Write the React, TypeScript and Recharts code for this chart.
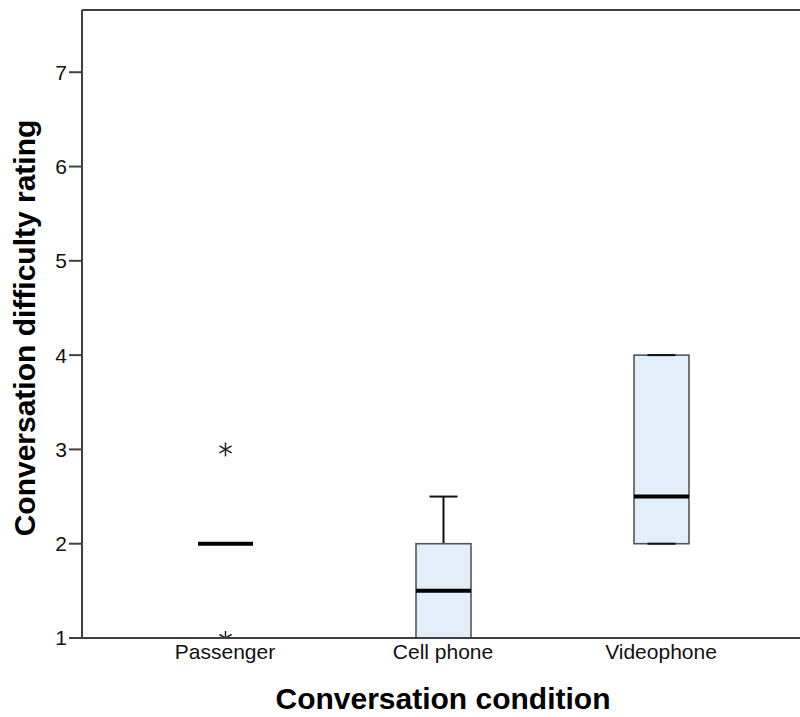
import React from 'react';
import { ComposedChart, Bar, XAxis, YAxis, ReferenceLine } from 'recharts';

// page gets no margin so the chart owns the whole 800x717 frame
document.body.style.margin = '0';

const conditions = ['Passenger', 'Cell phone', 'Videophone'];
const lowerWhisker = [2, 1, 2];
const q1 = [2, 1, 2];
const median = [2, 1.5, 2.5];
const q3 = [2, 2, 4];
const upperWhisker = [2, 2.5, 4];
const extremes: number[][] = [[1, 3], [], []];

const yTicks = [1, 2, 3, 4, 5, 6, 7];
const Y_MIN = 1;
const Y_MAX = 7.66;

const FONT = '"Liberation Sans", Arial, sans-serif';
const AXIS_COLOR = '#404040';
const BOX_FILL = '#E2EEFA';

const data = conditions.map((name, i) => {
  const lo = Math.min(lowerWhisker[i], ...extremes[i]);
  const hi = Math.max(upperWhisker[i], ...extremes[i]);
  return {
    name,
    range: [lo, hi],
    lo,
    hi,
    lw: lowerWhisker[i],
    q1: q1[i],
    med: median[i],
    q3: q3[i],
    uw: upperWhisker[i],
    extremes: extremes[i],
  };
});

// one range bar per group spans everything drawn for it; the pieces are
// placed along that bar using its own pixel/value ratio
function BoxShape(props: any) {
  const { x, y, width, height, payload } = props;
  if (!payload || !(height > 0)) return null;
  const { lo, hi, lw, q1: b1, med, q3: b3, uw } = payload;
  const unit = height / (hi - lo);
  const yOf = (v: number) => y + (hi - v) * unit;
  const cx = x + width / 2;
  const cap = 28;
  const hasBox = b3 > b1;

  return (
    <g>
      {hasBox && uw > b3 && (
        <line x1={cx} x2={cx} y1={yOf(b3)} y2={yOf(uw)} stroke="#111" strokeWidth={2} />
      )}
      {hasBox && lw < b1 && (
        <line x1={cx} x2={cx} y1={yOf(b1)} y2={yOf(lw)} stroke="#111" strokeWidth={2} />
      )}
      {hasBox && (
        <rect
          x={x}
          y={yOf(b3)}
          width={width}
          height={yOf(b1) - yOf(b3)}
          fill={BOX_FILL}
          stroke="#555"
          strokeWidth={1.6}
        />
      )}
      {hasBox && (
        <line x1={cx - cap / 2} x2={cx + cap / 2} y1={yOf(uw)} y2={yOf(uw)} stroke="#111" strokeWidth={2} />
      )}
      {hasBox && (
        <line x1={cx - cap / 2} x2={cx + cap / 2} y1={yOf(lw)} y2={yOf(lw)} stroke="#111" strokeWidth={2} />
      )}
      <line x1={x} x2={x + width} y1={yOf(med)} y2={yOf(med)} stroke="#000" strokeWidth={4} />
      {payload.extremes.map((v: number, k: number) => {
        const cy = yOf(v);
        const r = 7;
        const dx = r * Math.cos(Math.PI / 6);
        const dy = r * Math.sin(Math.PI / 6);
        return (
          <g key={k} stroke="#222" strokeWidth={1.5}>
            <line x1={cx} x2={cx} y1={cy - r} y2={cy + r} />
            <line x1={cx - dx} x2={cx + dx} y1={cy - dy} y2={cy + dy} />
            <line x1={cx - dx} x2={cx + dx} y1={cy + dy} y2={cy - dy} />
          </g>
        );
      })}
    </g>
  );
}

const YTitle = ({ viewBox }: any) => {
  const cx = viewBox.x + 35;
  const cy = viewBox.y + viewBox.height / 2 + 4;
  return (
    <text
      x={cx}
      y={cy}
      transform={`rotate(-90, ${cx}, ${cy})`}
      textAnchor="middle"
      fontFamily={FONT}
      fontWeight="bold"
      fontSize={30}
      fill="#000"
    >
      Conversation difficulty rating
    </text>
  );
};

const XTitle = ({ viewBox }: any) => (
  <text
    x={viewBox.x + viewBox.width / 2 + 2}
    y={viewBox.y + 71}
    textAnchor="middle"
    fontFamily={FONT}
    fontWeight="bold"
    fontSize={30}
    fill="#000"
  >
    Conversation condition
  </text>
);

export default function App() {
  return (
    <ComposedChart
      width={800}
      height={717}
      data={data}
      margin={{ top: 10, right: 0, bottom: 0, left: 0 }}
    >
      <XAxis
        dataKey="name"
        height={79}
        padding={{ left: 34, right: 30 }}
        tickLine={false}
        tickSize={0}
        tickMargin={6}
        axisLine={{ stroke: AXIS_COLOR, strokeWidth: 2 }}
        tick={{ fontSize: 21, fontFamily: FONT, fill: '#111' }}
        label={<XTitle />}
      />
      <YAxis
        type="number"
        domain={[Y_MIN, Y_MAX]}
        ticks={yTicks}
        interval={0}
        allowDataOverflow
        width={82}
        tickSize={13}
        tickMargin={2}
        tickLine={{ stroke: AXIS_COLOR, strokeWidth: 2 }}
        axisLine={{ stroke: AXIS_COLOR, strokeWidth: 2 }}
        tick={{ fontSize: 21, fontFamily: FONT, fill: '#111' }}
        label={<YTitle />}
      />
      <ReferenceLine y={Y_MAX} stroke={AXIS_COLOR} strokeWidth={2} />
      <Bar dataKey="range" barSize={55} shape={<BoxShape />} isAnimationActive={false} />
    </ComposedChart>
  );
}
